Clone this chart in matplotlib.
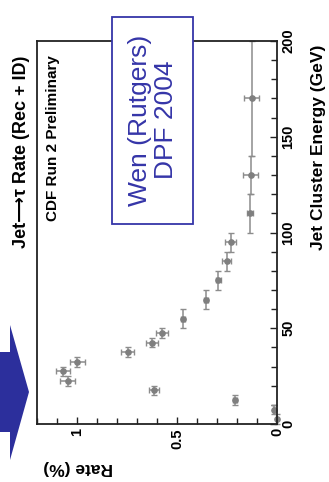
import matplotlib
matplotlib.use('Agg')
import matplotlib.pyplot as plt
from matplotlib.patches import Rectangle, Polygon
from matplotlib.ticker import MultipleLocator

# jet -> tau fake rate vs jet cluster energy (page is shown rotated by 90 deg)
energy = [2.5, 7.5, 12.5, 17.5, 22.5, 27.5, 32.5, 37.5, 42.5, 47.5,
          55, 65, 75, 85, 95, 110, 130, 170]
energy_err = [2.5, 2.5, 2.5, 2.5, 2.5, 2.5, 2.5, 2.5, 2.5, 2.5,
              5, 5, 5, 5, 5, 10, 10, 30]
rate = [0.002, 0.014, 0.21, 0.615, 1.047, 1.07, 0.998, 0.747, 0.627, 0.574,
        0.472, 0.357, 0.294, 0.252, 0.232, 0.135, 0.132, 0.127]
rate_err = [0.003, 0.005, 0.01, 0.027, 0.036, 0.036, 0.037, 0.034, 0.03, 0.03,
            0.01, 0.01, 0.012, 0.024, 0.027, 0.015, 0.038, 0.038]

rate_ticks = [0, 0.5, 1]
rate_ticklabels = ['0', '0.5', '1']
energy_ticks = [0, 50, 100, 150, 200]

fnt = ['Liberation Sans', 'DejaVu Sans']
plt.rcParams['font.family'] = fnt

W, H = 329, 482
fig = plt.figure(figsize=(W / 100, H / 100), dpi=100)
fig.patch.set_facecolor('white')

def fx(px):
    return px / W

def fy(py):
    return 1 - py / H

ax = fig.add_axes([fx(37), fy(424), fx(277) - fx(37), fy(41) - fy(424)])
eb = ax.errorbar(rate, energy, xerr=rate_err, yerr=energy_err, fmt='o',
                 color='#7f7f7f', ecolor='#8c8c8c', ms=3.8, elinewidth=1.1,
                 capsize=2, capthick=1.0)
for art in eb.get_children():
    art.set_clip_on(False)

ax.set_xlim(1.2, 0)
ax.set_ylim(0, 200)
ax.yaxis.tick_right()
ax.set_xticks(rate_ticks)
ax.set_xticklabels(rate_ticklabels)
ax.set_yticks(energy_ticks)
ax.xaxis.set_minor_locator(MultipleLocator(0.1))
ax.yaxis.set_minor_locator(MultipleLocator(10))
ax.tick_params(which='both', direction='in', bottom=True, top=False,
               left=False, right=True, width=1.0, color='#222222')
ax.tick_params(which='major', length=5)
ax.tick_params(which='minor', length=4)
ax.tick_params(axis='x', pad=3)
ax.tick_params(axis='y', pad=3)
for lab in ax.get_xticklabels():
    lab.set_rotation(90)
    lab.set_fontsize(10.5)
    lab.set_fontweight('bold')
    lab.set_va('top')
    lab.set_ha('center')
for lab in ax.get_yticklabels():
    lab.set_rotation(90)
    lab.set_fontsize(10.5)
    lab.set_fontweight('bold')
    lab.set_va('center')
    lab.set_ha('left')
for s in ax.spines.values():
    s.set_linewidth(1.3)
    s.set_color('#222222')

# labels, rotated like the page
fig.text(fx(318), fy(147), 'Jet Cluster Energy (GeV)', rotation=90,
         ha='center', va='center', fontsize=12.5, fontweight='bold')
fig.text(fx(78), fy(468), 'Rate (%)', rotation=180,
         ha='center', va='center', fontsize=12.5, fontweight='bold')
fig.text(fx(22), fy(152), 'Jet\u27f6\u03c4 Rate (Rec + ID)', rotation=90,
         ha='center', va='center', fontsize=13, fontweight='bold',
         family=['Liberation Sans', 'DejaVu Sans'])
fig.text(fx(53), fy(138), 'CDF Run 2 Preliminary', rotation=90,
         ha='center', va='center', fontsize=11, fontweight='bold')

# note box
blue = '#3535a8'
box = Rectangle((fx(112), fy(224)), fx(193) - fx(112), fy(17) - fy(224),
                transform=fig.transFigure, facecolor='white',
                edgecolor=blue, lw=1.3, zorder=5)
fig.add_artist(box)
fig.text(fx(153), fy(120), 'Wen (Rutgers)\nDPF 2004', rotation=90,
         ha='center', va='center', multialignment='center',
         fontsize=19, color=blue, zorder=6, linespacing=1.15)

# big arrow on the left
arrow = Polygon([(fx(0), fy(352)), (fx(10), fy(352)), (fx(10), fy(325)),
                 (fx(29), fy(392)), (fx(10), fy(460)), (fx(10), fy(432)),
                 (fx(0), fy(432))], closed=True,
                transform=fig.transFigure, facecolor='#2c2f9c',
                edgecolor='none', zorder=5)
fig.add_artist(arrow)

fig.savefig('out.png', dpi=100)
